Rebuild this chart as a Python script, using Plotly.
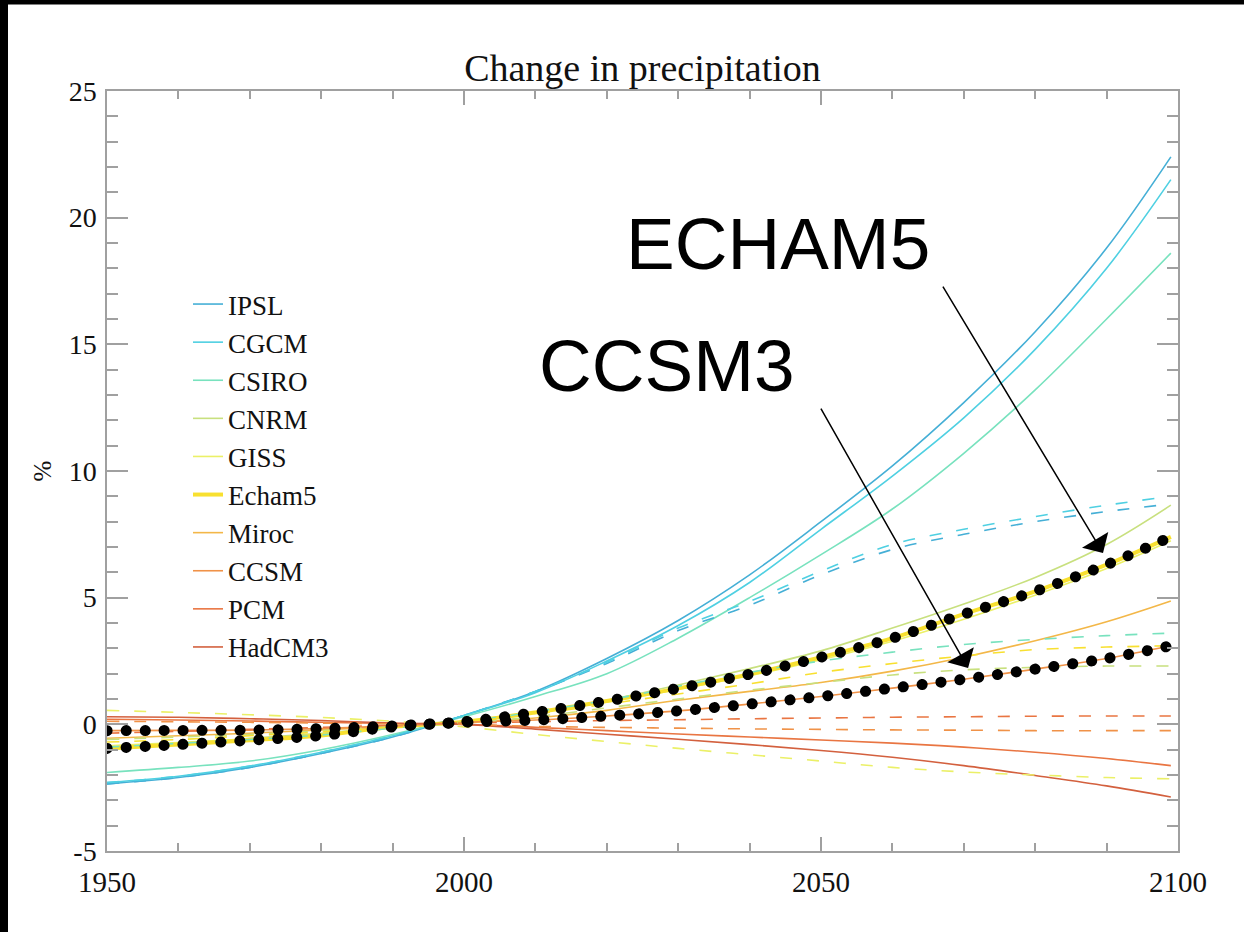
import plotly.graph_objects as go

# ---------------- data ----------------
years = [1950, 1960, 1970, 1980, 1990, 2000, 2010, 2020, 2030, 2040,
         2050, 2060, 2070, 2080, 2090, 2099]

models = ["IPSL", "CGCM", "CSIRO", "CNRM", "GISS", "Echam5",
          "Miroc", "CCSM", "PCM", "HadCM3"]

# solid lines
ipsl   = [-2.35, -2.1, -1.7, -1.15, -0.5, 0.35, 1.3, 2.6, 4.1, 5.9, 8.0, 10.2, 12.7, 15.5, 18.8, 22.4]
cgcm   = [-2.3, -2.05, -1.65, -1.1, -0.45, 0.35, 1.25, 2.5, 3.9, 5.6, 7.7, 9.8, 12.1, 14.8, 18.0, 21.5]
csiro  = [-1.9, -1.7, -1.45, -1.0, -0.4, 0.3, 1.1, 2.0, 3.4, 5.0, 6.7, 8.5, 10.7, 13.2, 16.0, 18.6]
cnrm   = [-1.0, -0.8, -0.55, -0.35, -0.1, 0.1, 0.45, 0.95, 1.55, 2.2, 2.9, 3.8, 4.75, 5.8, 7.1, 8.65]
giss   = [-0.85, -0.72, -0.57, -0.4, -0.12, 0.1, 0.45, 0.88, 1.38, 1.92, 2.55, 3.28, 4.15, 5.1, 6.15, 7.25]
echam5 = [-0.95, -0.8, -0.63, -0.44, -0.1, 0.1, 0.47, 0.92, 1.42, 1.98, 2.65, 3.4, 4.35, 5.25, 6.3, 7.4]
miroc  = [-0.55, -0.45, -0.35, -0.22, -0.08, 0.05, 0.25, 0.55, 0.95, 1.3, 1.65, 2.1, 2.65, 3.3, 4.05, 4.87]
ccsm   = [-0.25, -0.24, -0.23, -0.17, -0.06, 0.08, 0.17, 0.33, 0.53, 0.8, 1.1, 1.43, 1.78, 2.18, 2.6, 3.1]
pcm    = [0.2, 0.17, 0.13, 0.08, 0.03, 0.0, -0.12, -0.25, -0.38, -0.5, -0.62, -0.74, -0.9, -1.1, -1.35, -1.63]
hadcm3 = [0.3, 0.28, 0.22, 0.15, 0.05, 0.0, -0.19, -0.39, -0.59, -0.8, -1.03, -1.3, -1.63, -2.02, -2.43, -2.87]

# dashed lines
ipsl_d   = [-2.35, -2.1, -1.7, -1.15, -0.5, 0.35, 1.3, 2.4, 3.7, 4.7, 5.9, 6.9, 7.5, 8.0, 8.4, 8.7]
cgcm_d   = [-2.3, -2.05, -1.65, -1.1, -0.45, 0.35, 1.3, 2.45, 3.8, 4.85, 6.05, 7.1, 7.7, 8.2, 8.65, 9.0]
csiro_d  = [-0.9, -0.75, -0.6, -0.42, -0.15, 0.1, 0.5, 0.95, 1.5, 2.05, 2.5, 2.85, 3.15, 3.35, 3.5, 3.6]
cnrm_d   = [-0.6, -0.5, -0.4, -0.25, -0.08, 0.05, 0.3, 0.65, 1.0, 1.35, 1.65, 1.95, 2.15, 2.25, 2.3, 2.3]
echam5_d = [-0.7, -0.6, -0.45, -0.3, -0.1, 0.1, 0.4, 0.8, 1.2, 1.6, 2.05, 2.4, 2.7, 2.95, 3.05, 3.1]
giss_d   = [0.55, 0.47, 0.38, 0.27, 0.12, -0.1, -0.4, -0.68, -0.95, -1.2, -1.45, -1.7, -1.88, -2.0, -2.1, -2.15]
pcm_d    = [-0.35, -0.28, -0.2, -0.12, -0.03, 0.05, 0.1, 0.15, 0.18, 0.22, 0.25, 0.28, 0.3, 0.32, 0.33, 0.33]
ccsm_d   = [0.12, 0.1, 0.08, 0.05, 0.02, 0.0, -0.08, -0.12, -0.15, -0.18, -0.2, -0.22, -0.23, -0.25, -0.25, -0.25]

y_tick_vals = [-5, 0, 5, 10, 15, 20, 25]
y_tick_text = ["-5", "0", "5", "10", "15", "20", "25"]
x_tick_vals = [1950, 2000, 2050, 2100]
x_tick_text = ["1950", "2000", "2050", "2100"]

title_text = "Change in precipitation"
y_title = "%"

# ---------------- styles ----------------
colors = {
    "IPSL": "#45afd6", "CGCM": "#4fd0e2", "CSIRO": "#78e2be", "CNRM": "#c8e07e",
    "GISS": "#ebf067", "Echam5": "#f8e030", "Miroc": "#f3b748", "CCSM": "#f09248",
    "PCM": "#e97542", "HadCM3": "#d3603e",
}
solid = {"IPSL": ipsl, "CGCM": cgcm, "CSIRO": csiro, "CNRM": cnrm, "GISS": giss,
         "Echam5": echam5, "Miroc": miroc, "CCSM": ccsm, "PCM": pcm, "HadCM3": hadcm3}
dashed = [("IPSL", ipsl_d), ("CGCM", cgcm_d), ("CSIRO", csiro_d), ("CNRM", cnrm_d),
          ("Echam5", echam5_d), ("GISS", giss_d), ("PCM", pcm_d), ("CCSM", ccsm_d)]

serif = "Liberation Serif, Times New Roman, serif"
sans = "Liberation Sans, Arial, sans-serif"
axis_grey = "#a0a0a0"

fig = go.Figure()

for m in models:
    fig.add_trace(go.Scatter(
        x=years, y=solid[m], mode="lines", name=m, legendgroup=m,
        line=dict(color=colors[m], width=4 if m == "Echam5" else 1.6, shape="spline"),
    ))

for m, vals in dashed:
    fig.add_trace(go.Scatter(
        x=years, y=vals, mode="lines", name=m + " (dashed)", legendgroup=m, showlegend=False,
        line=dict(color=colors[m], width=1.6, dash="12px,15px", shape="spline"),
    ))

# black dotted highlight of ECHAM5 and CCSM3
for m in ["Echam5", "CCSM"]:
    fig.add_trace(go.Scatter(
        x=years, y=solid[m], mode="lines", showlegend=False, hoverinfo="skip",
        line=dict(color="black", width=11, dash="0.1px,18.9px", shape="spline"),
    ))

L, R, T, B = 107, 66, 91, 81
W, H = 1244, 932
pw, ph = W - L - R, H - T - B

fig.update_layout(
    width=W, height=H,
    margin=dict(l=L, r=R, t=T, b=B, autoexpand=False),
    paper_bgcolor="white", plot_bgcolor="white",
    font=dict(family=serif, color="#111111", size=28),
    title=dict(text=title_text, x=(L + pw / 2) / W, xanchor="center",
               y=1 - 68 / H, yanchor="middle", font=dict(family=serif, size=38, color="#111111")),
    showlegend=True,
    legend=dict(x=(188 - L) / pw, xanchor="left", y=(H - B - 280) / ph, yanchor="top",
                bgcolor="rgba(0,0,0,0)", borderwidth=0,
                font=dict(family=serif, size=27, color="#111111"),
                tracegroupgap=0, itemclick=False, itemdoubleclick=False),
    xaxis=dict(range=[1950, 2100], tickvals=x_tick_vals, ticktext=x_tick_text,
               ticks="inside", ticklen=14, tickwidth=1.5, tickcolor=axis_grey,
               showline=True, linecolor=axis_grey, linewidth=1.5, mirror="allticks",
               showgrid=False, zeroline=False, ticklabelstandoff=4,
               minor=dict(dtick=10, tick0=1950, ticks="inside", ticklen=8, tickwidth=1.5,
                          tickcolor=axis_grey, showgrid=False),
               tickfont=dict(family=serif, size=29, color="#111111")),
    yaxis=dict(range=[-5, 25], tickvals=y_tick_vals, ticktext=y_tick_text,
               ticks="inside", ticklen=21, tickwidth=1.5, tickcolor=axis_grey,
               showline=True, linecolor=axis_grey, linewidth=1.5, mirror="allticks",
               showgrid=False, zeroline=False, ticklabelstandoff=3,
               minor=dict(dtick=1, tick0=0, ticks="inside", ticklen=11, tickwidth=1.5,
                          tickcolor=axis_grey, showgrid=False),
               tickfont=dict(family=serif, size=28, color="#111111"),
               title=dict(text=y_title, standoff=10, font=dict(family=serif, size=25, color="#111111"))),
)

# ECHAM5 / CCSM3 labels and arrows
fig.add_annotation(x=2044.0, y=19.0, text="ECHAM5", showarrow=False,
                   font=dict(family=sans, size=73, color="black"))
fig.add_annotation(x=2028.4, y=14.15, text="CCSM3", showarrow=False,
                   font=dict(family=sans, size=73, color="black"))
fig.add_annotation(x=2089.5, y=6.76, ax=-161, ay=-268, text="", showarrow=True,
                   arrowhead=1, arrowsize=3.4, arrowwidth=1.5, arrowcolor="black", standoff=0)
fig.add_annotation(x=2070.6, y=2.22, ax=-148, ay=-261, text="", showarrow=True,
                   arrowhead=1, arrowsize=3.4, arrowwidth=1.5, arrowcolor="black", standoff=0)

# black frame edges of the original screenshot (left and top)
fig.add_shape(type="rect", xref="paper", yref="paper",
              x0=-L / pw, x1=(8 - L) / pw, y0=-B / ph, y1=(H - B) / ph,
              fillcolor="black", line=dict(width=0), layer="above")
fig.add_shape(type="rect", xref="paper", yref="paper",
              x0=-L / pw, x1=(W - L) / pw, y0=(H - B - 4.5) / ph, y1=(H - B) / ph,
              fillcolor="black", line=dict(width=0), layer="above")

post = """
document.body.style.margin = '0';
document.body.style.overflow = 'hidden';
var st = document.createElement('style');
st.textContent = 'path.js-line[style*="0.1px"]{stroke-linecap:round !important;}';
document.head.appendChild(st);
"""
fig.write_html("out.html", post_script=post, config={"displayModeBar": False})
